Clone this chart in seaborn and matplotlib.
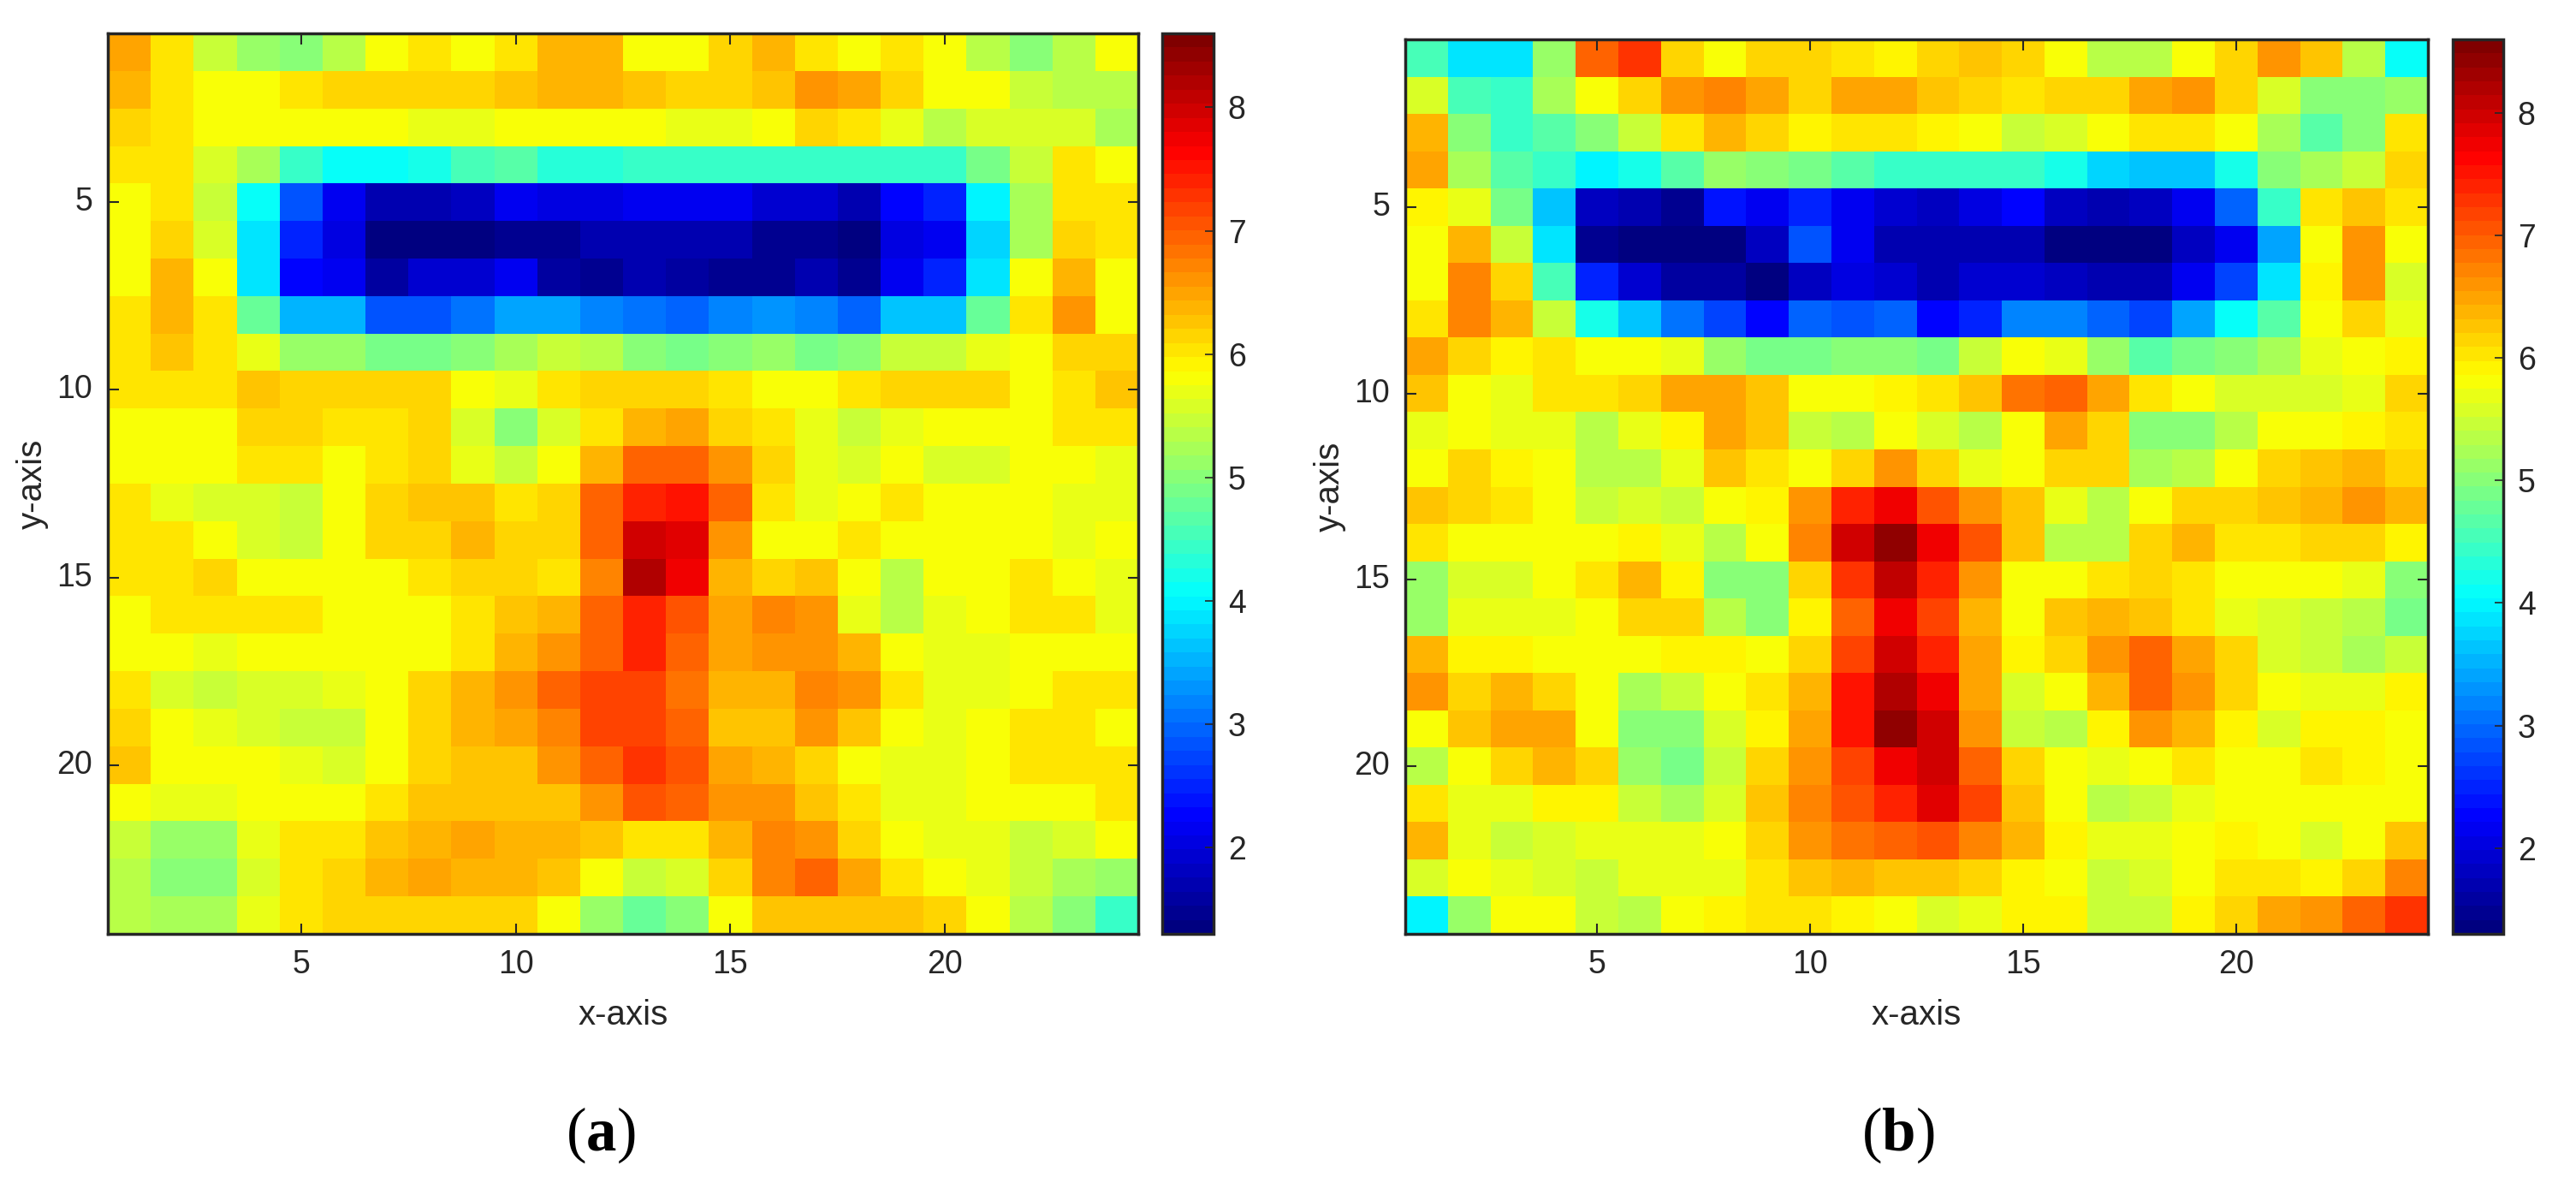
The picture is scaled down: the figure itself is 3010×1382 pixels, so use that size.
import matplotlib
matplotlib.use("Agg")
import matplotlib.pyplot as plt
import seaborn as sns
from matplotlib.colors import LinearSegmentedColormap

panel_a = [
    [6.45,6.0,5.5,5.1,5.0,5.4,5.85,6.05,5.85,6.05,6.35,6.35,5.85,5.75,6.15,6.35,6.0,5.85,6.05,5.85,5.4,5.0,5.35,5.75],
    [6.4,6.0,5.75,5.75,5.98,6.15,6.15,6.15,6.15,6.25,6.35,6.35,6.25,6.15,6.15,6.25,6.6,6.5,6.15,5.85,5.75,5.5,5.4,5.4],
    [6.15,6.0,5.75,5.75,5.75,5.75,5.75,5.65,5.65,5.75,5.85,5.85,5.75,5.65,5.65,5.75,6.1,6.0,5.65,5.4,5.55,5.6,5.6,5.25],
    [6.05,6.0,5.55,5.2,4.4,4.15,4.15,4.25,4.5,4.7,4.35,4.35,4.45,4.45,4.45,4.45,4.45,4.4,4.4,4.4,4.9,5.5,6.0,5.75],
    [5.85,6.0,5.45,4.15,2.8,2.2,1.75,1.75,1.85,2.1,2.0,2.0,2.15,2.15,2.2,1.95,1.95,1.65,2.3,2.45,4.0,5.2,6.0,6.05],
    [5.85,6.15,5.55,3.9,2.5,2.05,1.3,1.3,1.3,1.45,1.45,1.65,1.75,1.75,1.75,1.45,1.45,1.35,2.0,2.2,3.75,5.25,6.15,6.05],
    [5.85,6.35,5.75,3.9,2.3,2.2,1.55,1.95,1.95,2.15,1.55,1.45,1.7,1.6,1.45,1.45,1.7,1.45,2.15,2.45,3.85,5.75,6.4,5.75],
    [6.0,6.35,6.0,4.75,3.55,3.55,2.8,2.8,3.1,3.45,3.45,3.2,3.1,2.95,3.2,3.3,3.2,2.95,3.65,3.65,4.75,6.05,6.55,5.75],
    [6.0,6.25,6.05,5.65,5.15,5.15,4.85,4.85,5.0,5.2,5.5,5.4,5.0,4.9,5.0,5.15,4.85,5.0,5.45,5.45,5.65,5.85,6.1,6.2],
    [6.0,6.05,6.05,6.25,6.15,6.15,6.15,6.15,5.85,5.65,6.0,6.15,6.2,6.1,6.0,5.85,5.75,6.0,6.1,6.1,6.1,5.85,6.0,6.25],
    [5.85,5.85,5.85,6.2,6.2,6.05,6.05,6.15,5.55,5.0,5.55,6.05,6.35,6.45,6.2,6.0,5.65,5.45,5.65,5.75,5.85,5.85,6.0,6.0],
    [5.75,5.75,5.75,6.0,6.0,5.85,6.0,6.15,5.7,5.45,5.75,6.35,6.95,6.95,6.6,6.1,5.65,5.6,5.75,5.6,5.6,5.85,5.85,5.7],
    [6.0,5.7,5.6,5.6,5.5,5.85,6.1,6.25,6.25,6.05,6.15,6.95,7.45,7.55,6.95,6.0,5.65,5.85,6.0,5.85,5.85,5.85,5.7,5.7],
    [6.05,6.0,5.85,5.6,5.5,5.85,6.1,6.15,6.35,6.15,6.15,6.9,8.0,7.85,6.65,5.85,5.85,6.05,5.85,5.85,5.85,5.85,5.7,5.85],
    [6.0,6.05,6.15,5.85,5.85,5.75,5.85,6.0,6.15,6.15,6.05,6.75,8.15,7.7,6.35,6.15,6.25,5.85,5.4,5.75,5.85,6.0,5.85,5.7],
    [5.85,6.0,6.05,6.0,6.0,5.75,5.75,5.75,6.0,6.25,6.35,6.9,7.45,7.1,6.45,6.75,6.6,5.7,5.4,5.65,5.75,6.0,6.0,5.7],
    [5.75,5.75,5.65,5.85,5.75,5.75,5.75,5.85,6.05,6.35,6.6,7.0,7.35,7.0,6.5,6.6,6.6,6.35,5.85,5.65,5.65,5.75,5.85,5.85],
    [6.0,5.6,5.45,5.6,5.6,5.65,5.85,6.1,6.35,6.6,6.9,7.15,7.15,6.8,6.35,6.35,6.75,6.6,6.05,5.65,5.65,5.75,6.0,6.0],
    [6.15,5.85,5.65,5.6,5.45,5.45,5.75,6.15,6.35,6.5,6.7,7.15,7.2,6.9,6.25,6.25,6.65,6.3,5.85,5.65,5.75,6.0,6.05,5.85],
    [6.25,5.85,5.85,5.75,5.65,5.55,5.75,6.15,6.25,6.25,6.55,6.95,7.25,7.1,6.5,6.35,6.15,5.75,5.65,5.65,5.85,6.0,6.05,6.0],
    [5.85,5.65,5.65,5.85,5.85,5.75,6.0,6.25,6.25,6.25,6.25,6.65,7.1,7.0,6.55,6.55,6.25,6.05,5.65,5.65,5.85,5.75,5.85,6.0],
    [5.5,5.15,5.15,5.65,6.0,6.05,6.25,6.35,6.45,6.35,6.35,6.25,6.05,6.0,6.35,6.75,6.55,6.15,5.85,5.65,5.65,5.45,5.55,5.75],
    [5.4,5.0,5.0,5.55,6.0,6.15,6.35,6.45,6.35,6.35,6.25,5.85,5.5,5.6,6.2,6.75,6.95,6.5,6.05,5.85,5.65,5.45,5.2,5.1],
    [5.4,5.25,5.25,5.65,6.05,6.2,6.1,6.1,6.2,6.2,5.85,5.15,4.75,5.05,5.85,6.3,6.3,6.25,6.25,6.15,5.85,5.4,4.95,4.45],
]

panel_b = [
    [4.5,3.85,3.85,5.15,7.0,7.25,6.2,5.85,6.15,6.2,6.05,5.95,6.2,6.3,6.15,5.75,5.3,5.3,5.75,6.2,6.6,6.3,5.4,4.05],
    [5.55,4.55,4.4,5.2,5.75,6.15,6.55,6.75,6.45,6.2,6.45,6.45,6.3,6.2,6.05,6.15,6.2,6.45,6.55,6.2,5.55,5.0,5.0,5.15],
    [6.4,4.95,4.4,4.7,4.95,5.45,6.05,6.4,6.15,5.95,6.05,6.05,5.95,5.75,5.5,5.55,5.75,6.0,6.0,5.85,5.2,4.65,5.05,6.05],
    [6.45,5.25,4.65,4.45,3.95,4.2,4.7,5.1,4.95,4.85,4.7,4.45,4.4,4.4,4.4,4.2,3.7,3.6,3.6,4.25,5.0,5.25,5.5,6.2],
    [5.95,5.7,4.85,3.65,1.85,1.7,1.5,2.35,2.2,2.5,2.1,1.9,1.85,2.0,2.25,1.85,1.75,1.8,2.2,3.0,4.4,6.0,6.25,6.05],
    [5.75,6.35,5.5,3.85,1.45,1.3,1.3,1.4,1.85,2.8,2.15,1.65,1.65,1.65,1.65,1.35,1.35,1.35,1.85,2.2,3.45,5.85,6.6,5.85],
    [5.75,6.75,6.15,4.5,2.5,1.9,1.55,1.6,1.3,1.85,2.0,1.9,1.7,1.9,1.9,1.85,1.7,1.7,2.2,2.75,3.85,5.95,6.6,5.55],
    [6.05,6.75,6.35,5.45,4.2,3.65,3.1,2.7,2.25,2.95,2.85,2.9,2.25,2.5,3.2,3.2,2.95,2.75,3.4,4.05,4.65,5.85,6.15,5.7],
    [6.45,6.2,5.95,6.05,5.75,5.75,5.65,5.15,4.85,4.85,5.0,5.0,4.9,5.45,5.85,5.65,5.15,4.7,4.9,5.0,5.25,5.65,5.75,5.95],
    [6.3,5.85,5.65,6.05,6.05,6.15,6.45,6.45,6.25,5.85,5.85,5.95,6.05,6.3,6.85,7.0,6.45,6.0,5.75,5.6,5.6,5.55,5.65,6.15],
    [5.65,5.85,5.65,5.65,5.3,5.65,5.95,6.45,6.25,5.5,5.4,5.75,5.55,5.3,5.85,6.45,6.2,5.05,5.05,5.35,5.85,5.85,5.95,6.05],
    [5.75,6.15,5.95,5.75,5.3,5.4,5.7,6.25,6.05,5.75,6.2,6.6,6.15,5.65,5.75,6.15,6.1,5.25,5.35,5.75,6.15,6.25,6.35,6.2],
    [6.3,6.15,6.05,5.85,5.5,5.55,5.45,5.75,5.95,6.55,7.45,7.75,7.1,6.55,6.25,5.65,5.4,5.75,6.15,6.15,6.25,6.35,6.55,6.35],
    [6.05,5.85,5.85,5.85,5.85,5.95,5.65,5.4,5.75,6.75,7.95,8.4,7.8,7.1,6.3,5.4,5.4,6.15,6.35,6.05,6.05,6.2,6.2,5.95],
    [5.1,5.6,5.6,5.75,6.05,6.35,5.95,4.95,4.95,6.15,7.3,8.1,7.45,6.55,5.85,5.75,6.05,6.2,6.05,5.85,5.85,5.85,5.7,5.05],
    [5.15,5.7,5.7,5.7,5.85,6.2,6.15,5.35,4.95,5.95,7.0,7.7,7.2,6.35,5.85,6.25,6.4,6.3,6.05,5.7,5.55,5.5,5.35,4.85],
    [6.4,5.95,5.95,5.85,5.75,5.75,5.95,5.95,5.75,6.15,7.2,7.95,7.4,6.45,5.95,6.15,6.65,6.9,6.45,6.1,5.6,5.5,5.25,5.45],
    [6.6,6.2,6.35,6.2,5.85,5.2,5.45,5.85,6.05,6.4,7.5,8.25,7.7,6.45,5.6,5.75,6.35,7.0,6.6,6.15,5.75,5.65,5.65,5.95],
    [5.75,6.3,6.45,6.45,5.85,4.95,4.95,5.6,5.95,6.45,7.5,8.4,7.95,6.6,5.45,5.35,5.95,6.65,6.35,5.95,5.6,5.95,5.95,5.85],
    [5.3,5.85,6.15,6.35,6.15,5.15,4.85,5.45,6.15,6.6,7.15,7.8,7.95,7.0,6.15,5.75,5.65,5.85,6.0,5.85,5.75,6.05,5.95,5.75],
    [6.05,5.65,5.65,5.95,5.95,5.5,5.25,5.6,6.3,6.75,7.05,7.45,7.85,7.2,6.3,5.75,5.4,5.5,5.65,5.85,5.85,5.75,5.75,5.85],
    [6.35,5.7,5.45,5.55,5.65,5.65,5.65,5.75,6.15,6.6,6.85,6.95,7.05,6.7,6.35,5.95,5.65,5.65,5.75,5.95,5.85,5.6,5.75,6.25],
    [5.6,5.75,5.65,5.55,5.5,5.65,5.65,5.7,6.05,6.25,6.35,6.25,6.25,6.2,5.95,5.75,5.5,5.55,5.85,6.05,6.05,5.95,6.15,6.75],
    [3.95,5.15,5.85,5.85,5.5,5.4,5.75,5.95,6.05,6.05,5.95,5.75,5.55,5.65,5.95,5.95,5.45,5.45,5.95,6.2,6.45,6.6,7.0,7.3],
]

axis_ticks = [5, 10, 15, 20]
cbar_ticks = [2, 3, 4, 5, 6, 7, 8]
vmin, vmax = 1.3, 8.6

W, H = 3010, 1382
DARK = "#262626"

sns.set_style("white")
plt.rcParams["font.family"] = ["Liberation Sans", "DejaVu Sans"]
plt.rcParams["mathtext.fontset"] = "custom"
plt.rcParams["mathtext.bf"] = "Liberation Serif:bold"
plt.rcParams["mathtext.rm"] = "Liberation Serif"

# matlab style jet, 64 steps
jet64 = LinearSegmentedColormap.from_list("jet64", [
    (0.0, (0, 0, 0.5)), (0.125, (0, 0, 1)), (0.375, (0, 1, 1)),
    (0.625, (1, 1, 0)), (0.875, (1, 0, 0)), (1.0, (0.5, 0, 0))], N=64)


def px_axes(fig, x0, y0, x1, y1):
    return fig.add_axes([x0 / W, 1 - y1 / H, (x1 - x0) / W, (y1 - y0) / H])


def panel(fig, data, box, cbox, tag, tag_x):
    ax = px_axes(fig, *box)
    cax = px_axes(fig, *cbox)
    sns.heatmap(data, ax=ax, cbar_ax=cax, cmap=jet64, vmin=vmin, vmax=vmax)

    # the white style keeps ticks under the mesh otherwise
    ax.set_axisbelow(False)
    cax.set_axisbelow(False)

    ax.set_xticks([t - 0.5 for t in axis_ticks])
    ax.set_xticklabels(axis_ticks, rotation=0)
    ax.set_yticks([t - 0.5 for t in axis_ticks])
    ax.set_yticklabels(axis_ticks, rotation=0)
    ax.tick_params(direction="in", length=9, width=1.5, top=True, right=True,
                   bottom=True, left=True, labelsize=27, colors=DARK, pad=13)
    ax.set_xlabel("x-axis", fontsize=29, color=DARK, labelpad=16)
    ax.set_ylabel("y-axis", fontsize=29, color=DARK, labelpad=7)
    for s in ax.spines.values():
        s.set_visible(True)
        s.set_linewidth(2.5)
        s.set_color(DARK)

    cbar = ax.collections[0].colorbar
    cbar.set_ticks(cbar_ticks)
    cbar.ax.tick_params(direction="in", length=7, width=1.2, right=True, left=False,
                        labelsize=27, colors=DARK, pad=12)
    cbar.outline.set_visible(True)
    cbar.outline.set_linewidth(2.5)
    cbar.outline.set_edgecolor(DARK)

    fig.text(tag_x / W, 1 - 1326 / H, tag, ha="center", va="center", fontsize=51,
             family="Liberation Serif", color="black")


fig = plt.figure(figsize=(W / 100, H / 100), dpi=100)
panel(fig, panel_a, (126, 39, 1330, 1091), (1358, 39, 1418, 1091), r"($\mathbf{a}$)", 702)
panel(fig, panel_b, (1642, 46, 2837, 1091), (2866, 46, 2925, 1091), r"($\mathbf{b}$)", 2218)

fig.savefig("out.png", dpi=100)
